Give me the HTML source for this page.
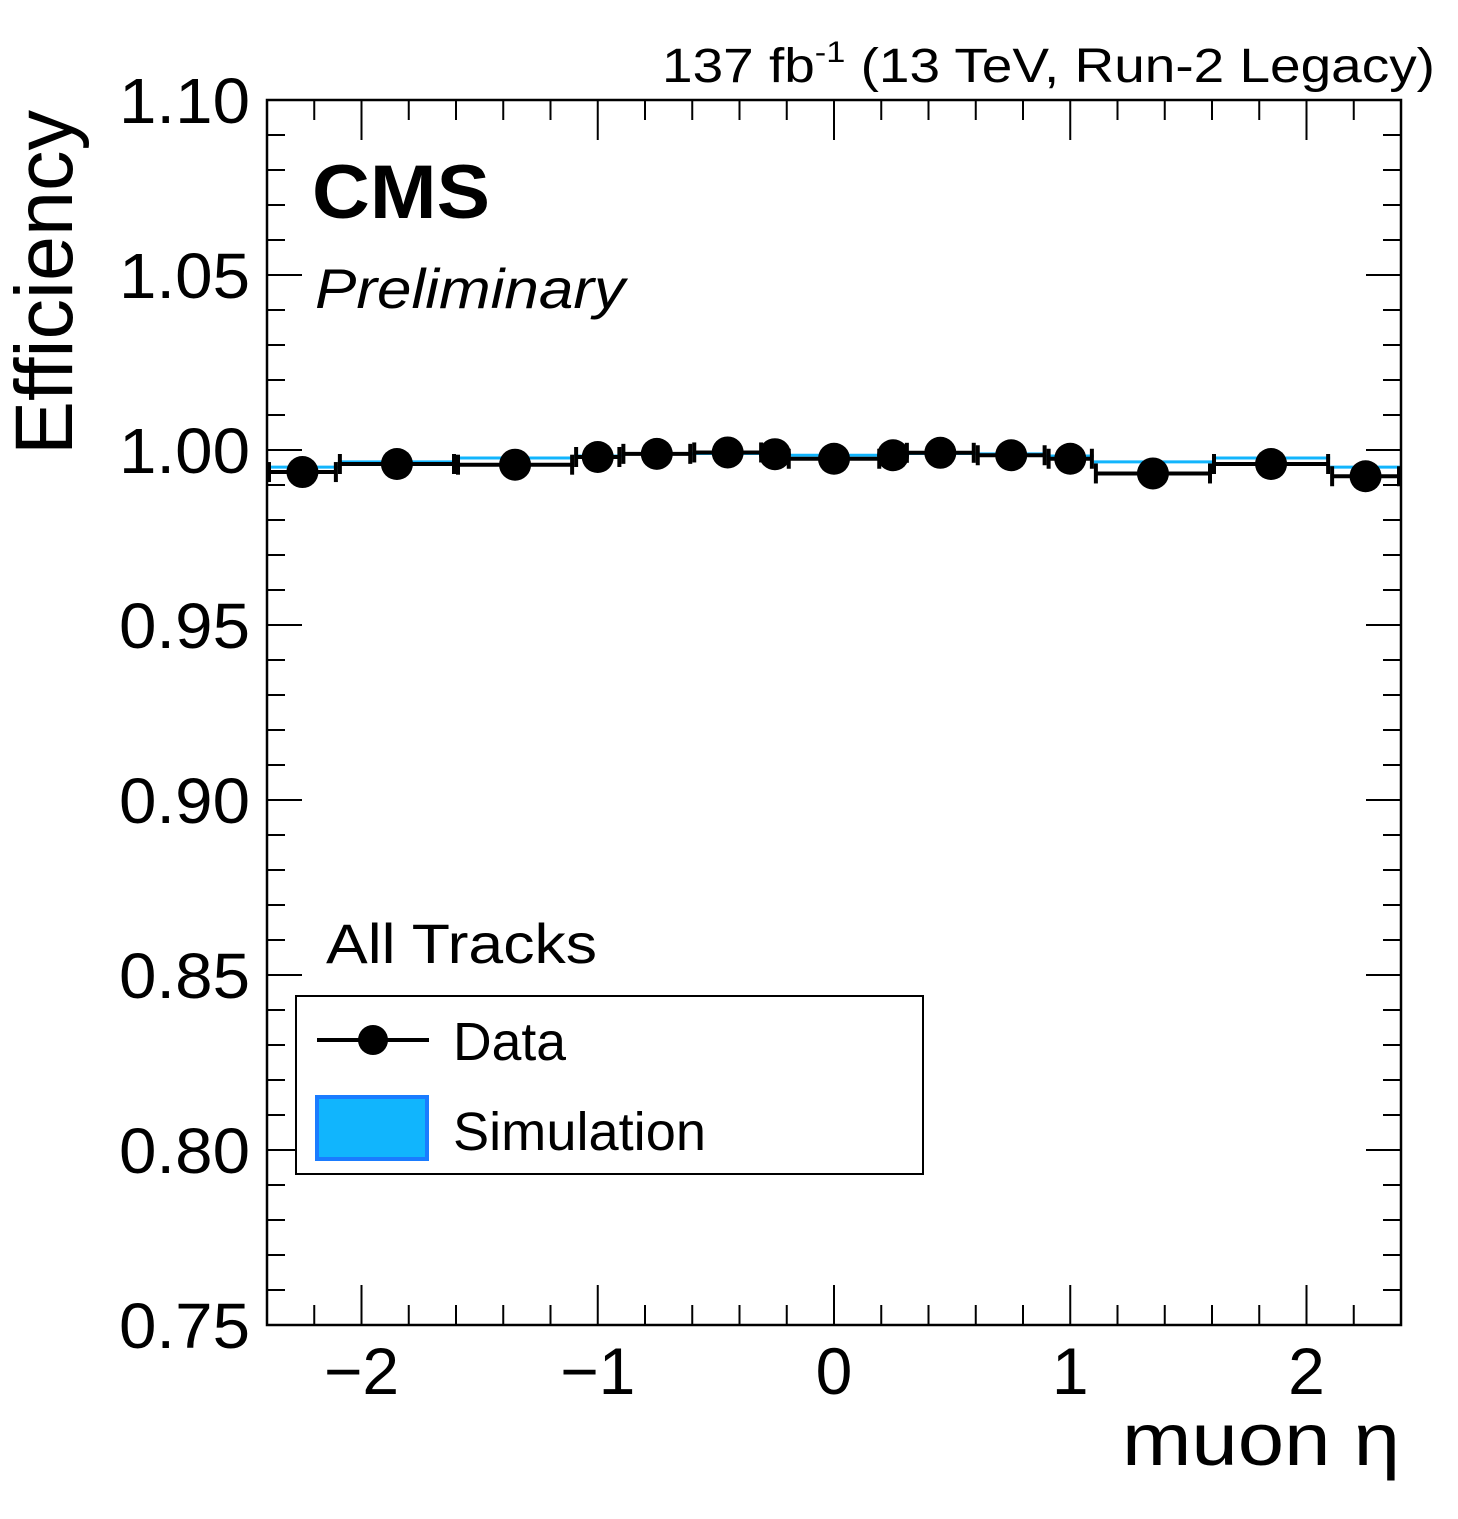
<!DOCTYPE html>
<html><head><meta charset="utf-8"><style>
html,body{margin:0;padding:0;background:#fff;}
svg text{font-family:"Liberation Sans",sans-serif;}
</style></head><body>
<svg id="chart" width="1458" height="1514" viewBox="0 0 1458 1514">
<rect width="1458" height="1514" fill="#fff"/>
<g id="ticks"></g>
<g id="sim"></g>
<g id="data"></g>
<rect x="267" y="100" width="1134" height="1225" fill="none" stroke="#000" stroke-width="2.5"/>
<g id="labels" fill="#000"></g>
<text x="662" y="82" font-size="48" textLength="773" lengthAdjust="spacingAndGlyphs">137 fb<tspan dy="-20" font-size="30">-1</tspan><tspan dy="20"> (13 TeV, Run-2 Legacy)</tspan></text>
<text x="312" y="218" font-size="76" font-weight="bold" textLength="178" lengthAdjust="spacingAndGlyphs">CMS</text>
<text x="315" y="308" font-size="56" font-style="italic" textLength="310" lengthAdjust="spacingAndGlyphs">Preliminary</text>
<text transform="translate(72,455) rotate(-90)" font-size="82" textLength="345" lengthAdjust="spacingAndGlyphs">Efficiency</text>
<text x="1122" y="1465" font-size="74" textLength="278" lengthAdjust="spacingAndGlyphs">muon η</text>
<text x="326" y="963" font-size="56" textLength="271" lengthAdjust="spacingAndGlyphs">All Tracks</text>
<g>
<rect x="296" y="996" width="627" height="178" fill="#fff" stroke="#000" stroke-width="2"/>
<line x1="317" y1="1040" x2="429" y2="1040" stroke="#000" stroke-width="4"/>
<circle cx="373" cy="1040" r="15" fill="#000"/>
<text x="453" y="1060" font-size="54" textLength="113" lengthAdjust="spacingAndGlyphs">Data</text>
<rect x="317" y="1097" width="110" height="62" fill="#11b5fd" stroke="#1a7cff" stroke-width="4"/>
<text x="453" y="1150" font-size="54" textLength="253" lengthAdjust="spacingAndGlyphs">Simulation</text>
</g>
</svg>
<script>
const binEdges=[-2.4,-2.1,-1.6,-1.1,-0.9,-0.6,-0.3,-0.2,0.2,0.3,0.6,0.9,1.1,1.6,2.1,2.4];
const dataEff=[0.9937,0.9960,0.9958,0.9980,0.9989,0.9993,0.9988,0.9975,0.9985,0.9992,0.9985,0.9975,0.9933,0.9960,0.9925];
const simEff=[0.9951,0.9966,0.9977,0.9983,0.9989,0.9990,0.9990,0.9985,0.9990,0.9990,0.9989,0.9983,0.9966,0.9977,0.9951];
const yTickLabels=["0.75","0.80","0.85","0.90","0.95","1.00","1.05","1.10"];
const xTickLabels=["\u22122","\u22121","0","1","2"];
const NS="http://www.w3.org/2000/svg";
const X0=267,X1=1401,Y0=1325,Y1=100;
function xs(v){return X0+(v+2.4)/4.8*(X1-X0);}
function ys(v){return Y0-(v-0.75)/0.35*(Y0-Y1);}
function mk(tag,attrs,parent){const e=document.createElementNS(NS,tag);for(const k in attrs)e.setAttribute(k,attrs[k]);parent.appendChild(e);return e;}
const tk=document.getElementById('ticks');
for(let i=0;i<=35;i++){const v=0.75+i*0.01;const y=ys(v);const L=(i%5===0)?35:18;
 const a=mk('line',{x1:X0,y1:y,x2:X0+L,y2:y,stroke:'#000','stroke-width':2},tk);
 
 
 const b=mk('line',{x1:X1,y1:y,x2:X1-L,y2:y,stroke:'#000','stroke-width':2},tk);
 
 }
for(let i=-12;i<=12;i++){const v=i*0.2;const x=xs(v);const L=(i%5===0)?40:20;
 const a=mk('line',{x1:x,y1:Y0,x2:x,y2:Y0-L,stroke:'#000','stroke-width':2},tk);
 
 
 const b=mk('line',{x1:x,y1:Y1,x2:x,y2:Y1+L,stroke:'#000','stroke-width':2},tk);
 
 }
const lb=document.getElementById('labels');
yTickLabels.forEach((t,i)=>{const e=mk('text',{x:250,y:ys(parseFloat(t))+23,'text-anchor':'end','font-size':64,textLength:131,lengthAdjust:'spacingAndGlyphs'},lb);e.textContent=t;
 
 });
xTickLabels.forEach((t,i)=>{const e=mk('text',{x:xs(i-2),y:1394,'text-anchor':'middle','font-size':66},lb);e.textContent=t;
 
 });
const sg=document.getElementById('sim'),dg=document.getElementById('data');
for(let i=0;i<dataEff.length;i++){
 const xa=xs(binEdges[i]),xb=xs(binEdges[i+1]),xc=(xa+xb)/2;
 const s=mk('line',{x1:xa,y1:ys(simEff[i]),x2:xb,y2:ys(simEff[i]),stroke:'#11b5fd','stroke-width':3},sg);
 
 
 const y=ys(dataEff[i]);
 const l=mk('line',{x1:xa+1,y1:y,x2:xb-1,y2:y,stroke:'#000','stroke-width':4},dg);
 
 
 [xa+2,xb-2].forEach(cx=>{const c=mk('line',{x1:cx,y1:y-10,x2:cx,y2:y+10,stroke:'#000','stroke-width':4},dg);
  
  });
 const p=mk('circle',{cx:xc,cy:y,r:16,fill:'#000'},dg);
 
 
}
</script>
</body></html>
